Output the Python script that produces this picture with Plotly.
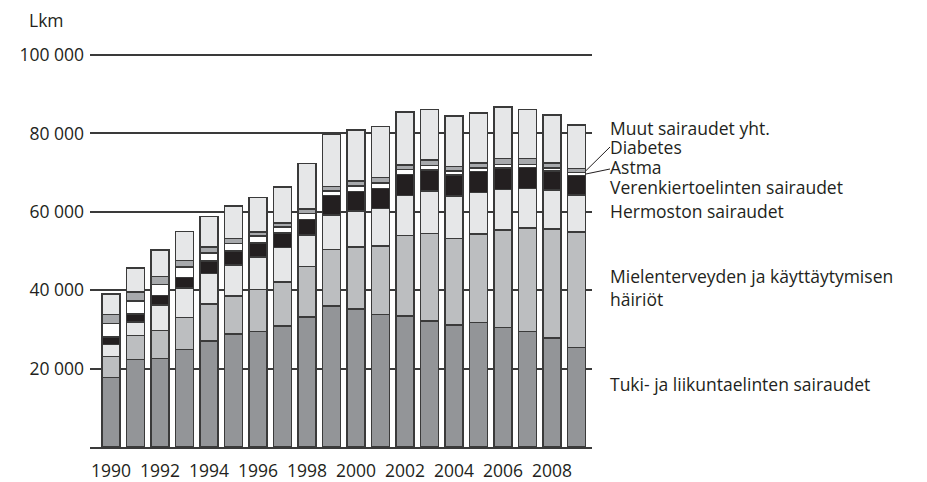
import plotly.graph_objects as go

years = list(range(1990, 2010))
tuki = [17700, 22300, 22600, 24900, 27100, 28800, 29500, 30900, 33200, 36000,
        35200, 33800, 33400, 32200, 31100, 31700, 30500, 29500, 27800, 25400]
mielen = [5400, 6200, 7100, 8200, 9400, 9700, 10700, 11200, 12800, 14400,
          15800, 17500, 20600, 22300, 22100, 22700, 24800, 26400, 27800, 29400]
hermo = [3100, 3400, 6500, 7500, 7800, 7900, 8300, 8800, 8100, 8800,
         9200, 9600, 10200, 10800, 10800, 10500, 10400, 10100, 9900, 9500]
veren = [1900, 2000, 2500, 2700, 3100, 3600, 3600, 3700, 4000, 4900,
         5000, 5100, 5300, 5400, 5400, 5400, 5500, 5300, 4900, 5000]
astma = [3400, 3400, 2800, 2600, 2100, 1900, 1700, 1500, 1500, 1200,
         1400, 1400, 1300, 1100, 1000, 900, 900, 800, 800, 700]
diabetes = [2300, 2300, 2000, 1700, 1500, 1300, 1100, 1100, 1100, 1200,
            1300, 1300, 1200, 1400, 1200, 1300, 1500, 1500, 1300, 1000]
muut = [5200, 6100, 6800, 7400, 7800, 8300, 8700, 9100, 11600, 13300,
        13000, 13000, 13400, 12900, 12900, 12700, 13100, 12500, 12200, 11200]

tick_years = list(range(1990, 2009, 2))
y_ticks = [20000, 40000, 60000, 80000, 100000]
y_ticktext = ["20 000", "40 000", "60 000", "80 000", "100 000"]

series = [
    ("Tuki- ja liikuntaelinten sairaudet", tuki, "#939598"),
    ("Mielenterveyden ja käyttäytymisen häiriöt", mielen, "#bcbec0"),
    ("Hermoston sairaudet", hermo, "#e6e7e8"),
    ("Verenkiertoelinten sairaudet", veren, "#231f20"),
    ("Astma", astma, "#ffffff"),
    ("Diabetes", diabetes, "#a7a9ac"),
    ("Muut sairaudet yht.", muut, "#e6e7e8"),
]

FONT = "Open Sans"
TXT = "#231f20"
FS = 17.5

fig = go.Figure()
for name, vals, col in series:
    fig.add_trace(go.Bar(
        x=years, y=vals, name=name, width=0.735,
        marker=dict(color=col, line=dict(color="#3a3a3a", width=1.5)),
        showlegend=False,
    ))

W, H = 927, 482
L, R, T, B = 90, 592, 51, 447
PW, PH = R - L, B - T
ymax = 100000
ytop = ymax * PH / (447 - 55)   # so that 100 000 sits at y = 55 px


def px(xp):
    return (xp - L) / PW


def py(yp):
    return (B - yp) / PH


def vy(v):
    return v / ytop


# stacked boundaries of last bar for connector lines
i = len(years) - 1
c_v = tuki[i] + mielen[i] + hermo[i] + veren[i]
c_a = c_v + astma[i]
c_d = c_a + diabetes[i]

shapes = [
    dict(type="line", xref="paper", yref="paper",
         x0=px(586), y0=vy((c_a + c_d) / 2), x1=px(610), y1=py(147),
         line=dict(color=TXT, width=1)),
    dict(type="line", xref="paper", yref="paper",
         x0=px(586), y0=vy((c_v + c_a) / 2), x1=px(610), y1=py(169),
         line=dict(color=TXT, width=1)),
]

labels = [
    ("Muut sairaudet yht.", 128),
    ("Diabetes", 147),
    ("Astma", 167),
    ("Verenkiertoelinten sairaudet", 187),
    ("Hermoston sairaudet", 211),
    ("Mielenterveyden ja käyttäytymisen<br>häiriöt", 287),
    ("Tuki- ja liikuntaelinten sairaudet", 384),
]
annotations = [
    dict(text=t, xref="paper", yref="paper", x=px(609), y=py(y),
         xanchor="left", yanchor="middle", showarrow=False, align="left",
         borderpad=0,
         font=dict(family=FONT, size=FS, color=TXT))
    for t, y in labels
]
annotations.append(dict(text="Lkm", xref="paper", yref="paper", x=px(28), y=py(20),
                        xanchor="left", yanchor="middle", showarrow=False,
                        borderpad=0,
                        font=dict(family=FONT, size=FS, color=TXT)))

fig.update_layout(
    width=W, height=H,
    margin=dict(l=L, r=W - R, t=T, b=H - B, pad=0, autoexpand=False),
    paper_bgcolor="white", plot_bgcolor="white",
    barmode="stack",
    font=dict(family=FONT, size=FS, color=TXT),
    shapes=shapes, annotations=annotations,
    xaxis=dict(range=[1989.143, 2009.633], tickvals=tick_years,
               ticktext=[str(y) for y in tick_years],
               showgrid=False, zeroline=False, showline=True,
               linecolor="#3a3a3a", linewidth=1.5, ticks="",
               automargin=False, ticklabelstandoff=7,
               tickfont=dict(family=FONT, size=FS, color=TXT)),
    yaxis=dict(range=[0, ytop], tickvals=y_ticks, ticktext=y_ticktext,
               showgrid=True, gridcolor="#3a3a3a", gridwidth=1.5,
               zeroline=False, showline=False, ticks="",
               automargin=False, ticklabelstandoff=5,
               tickfont=dict(family=FONT, size=FS, color=TXT)),
)

fig.write_html(
    "out.html",
    config={"displayModeBar": False},
    post_script="document.body.style.margin='0';document.body.style.overflow='hidden';",
)
